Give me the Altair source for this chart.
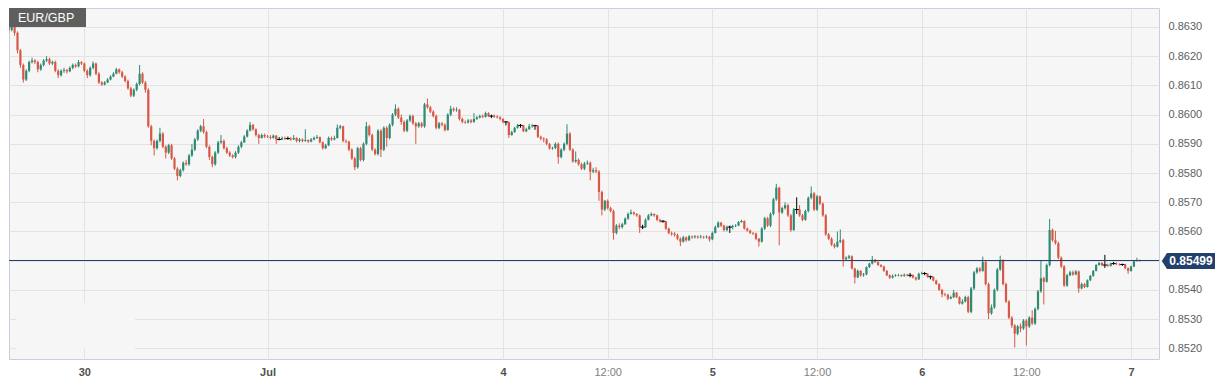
import altair as alt
import pandas as pd

# ---------------- data (prices stored as pips above 0.8500) ----------------
BASE = 0.85
OPEN0 = 133
CLOSE = [
    129, 137, 128, 122, 117, 112, 115, 118, 118.5, 118,
    115.5, 117, 118.5, 119, 117.5, 118, 115, 113.5, 115, 115.3,
    114.8, 116, 117, 116.5, 118, 117.5, 115, 113.5, 116, 117.5,
    114, 111, 110.3, 111, 112, 113, 114, 115.5, 114.5, 113,
    111.5, 109, 106.5, 108.5, 110.5, 114, 111, 108.5, 96, 91,
    88.5, 91, 93.5, 89, 87, 89.5, 85, 81.5, 79, 81,
    83.5, 83, 86, 88, 91.5, 94.5, 96, 94, 89, 85.5,
    83, 87, 90.5, 91, 88.5, 87, 86, 85.5, 87, 89,
    90.5, 92.5, 94.5, 96.5, 95, 93, 92, 93, 92.5, 92.3,
    92, 92.8, 91.5, 91.5, 92, 91.8, 91.8, 91.5, 92, 91,
    91.5, 91, 91.3, 90.8, 91.5, 92, 92.3, 90.5, 88.5, 89.5,
    92, 91.5, 92, 95.5, 96, 91, 90.8, 88, 85, 82,
    88.5, 84.5, 90, 96, 93, 88, 86.5, 94.5, 88, 95.5,
    92, 96.5, 100, 102, 99, 97.5, 94.5, 98, 99.5, 97,
    96, 97, 96, 103.5, 102.5, 101, 99.5, 95.5, 97, 96.5,
    94.7, 100, 102, 101.5, 101.7, 98.5, 97.5, 97.3, 98, 97.5,
    98.5, 99, 99.5, 99.2, 100.5, 99.5, 99.5, 99.3, 99, 98.5,
    97.5, 97.5, 93, 94, 95.5, 96.3, 96.3, 94.3, 95, 96,
    96.2, 96.2, 92.4, 91.8, 91.5, 90, 88.4, 88.6, 90, 85.5,
    88, 90, 93.5, 88, 84, 84.5, 83, 81.5, 83.2, 83.5,
    80.5, 81, 80.5, 73.5, 67.5, 70.5, 68, 67, 59.5, 62,
    61.5, 62.5, 64.4, 66, 66.5, 66, 65.5, 61.5, 61.5, 64,
    65.5, 66, 65.5, 64, 63.5, 63.5, 61, 59.5, 59.2, 58.8,
    57.5, 56.5, 58, 57, 58.3, 58, 58.3, 58, 58.2, 58,
    58.2, 57.3, 59.5, 61.5, 63, 62, 60.5, 61.5, 61.5, 61.8,
    62, 63.2, 63.6, 61, 60.3, 59.5, 59.3, 57.5, 56.5, 61,
    64.5, 62, 66, 71, 75, 66.5, 68, 69, 65.5, 60.5,
    67.5, 67.5, 65.5, 64, 67, 71.5, 73, 67.5, 72, 69.5,
    65.5, 59, 57.5, 55.5, 54.8, 56.5, 57, 50.5, 51, 51.5,
    47.3, 44.3, 46.5, 45, 45.3, 47.8, 49, 50.3, 49.5, 48.5,
    48, 46.5, 45, 44.2, 44.8, 45, 45.1, 44.8, 45.2, 45,
    45, 44.2, 43.6, 45.5, 45.6, 45.6, 44.5, 44.5, 43.2, 42,
    40, 38.5, 38.3, 37, 37.5, 39, 37.5, 35.3, 36, 37.5,
    32.5, 40.5, 46, 47.3, 46.5, 49.6, 42, 32, 34, 40,
    47, 50.2, 42, 36, 30.5, 27.8, 25, 27.5, 26.8, 29.5,
    27.5, 30.5, 28.5, 33.5, 39.5, 44, 42.8, 48.5, 60.5, 57,
    56, 51, 48, 41.5, 45, 46, 45.3, 46.3, 40.5, 42,
    41, 43.3, 44.8, 46.5, 48.5, 49.2, 48.5, 48.5, 48.2, 49,
    49, 48.8, 48.7, 48.7, 47.4, 46.5, 48, 49.8, 50.2, 49.99,
]
HIGH = [
    134, 138, 137.5, 128.5, 122.5, 117.5, 115.5, 118.5, 119.5, 119,
    118.5, 117.5, 119, 120, 119.5, 118.5, 118.5, 115.5, 115.5, 116,
    115.6, 116.5, 117.5, 117.5, 118.7, 118.3, 117.8, 115.5, 116.5, 118.2,
    117.8, 114.5, 111.5, 111.5, 112.5, 113.5, 114.5, 116, 115.8, 115,
    113.5, 112, 109.5, 109, 111, 117, 114.5, 111.5, 109, 96.5,
    91.5, 91.5, 95.5, 94, 89.5, 90, 90, 85.5, 82, 81.5,
    84, 84.5, 86.5, 90, 92, 95, 96.5, 98.5, 94.5, 89.5,
    86, 87.5, 91, 93, 91.5, 89, 87.5, 86.5, 87.5, 89.5,
    91, 93, 95, 97.5, 96.8, 95.3, 93.5, 93.5, 93.5, 93,
    93, 93.2, 93, 92.3, 92.5, 92.5, 92.5, 92.3, 93, 92.3,
    92, 91.8, 95, 91.5, 92, 92.5, 93, 92.5, 90.8, 90,
    92.5, 92.5, 92.8, 96.6, 96.5, 96.2, 91.5, 91, 88.5, 85.5,
    89, 89, 90.5, 97.5, 96.5, 93.5, 88.5, 95, 95, 96,
    96, 97, 100.5, 103.5, 102.5, 100, 98, 98.5, 100, 100,
    97.5, 97.5, 97.5, 104, 105.5, 103, 101.5, 100, 97.5, 97.5,
    97, 100.5, 103, 102.5, 102.5, 102, 99, 98, 98.5, 98.5,
    100.5, 99.5, 100, 100, 101, 100.8, 100, 100, 99.8, 99.5,
    98.8, 97.8, 97.5, 94.5, 95.8, 96.8, 96.8, 96.5, 95.5, 96.8,
    96.8, 96.5, 96.3, 92.8, 92.2, 92, 90.3, 89, 90.5, 90.5,
    88.5, 90.5, 96.7, 94, 88.5, 87.4, 85, 83.5, 83.8, 84.3,
    84, 81.8, 82, 81, 74, 70.8, 71, 68.5, 67.5, 62.5,
    62.8, 63, 64.8, 66.5, 67.5, 66.8, 66.3, 65.8, 62.3, 64.5,
    66, 66.5, 66.2, 65.8, 64.3, 63.9, 63.6, 61.3, 60, 59.8,
    59.3, 58, 58.5, 58.3, 58.8, 58.6, 58.8, 58.6, 58.8, 58.5,
    58.7, 58.5, 60, 62, 63.5, 63.3, 62.3, 62, 62, 62.3,
    62.5, 63.6, 64, 63.8, 61.3, 60.6, 59.8, 59.6, 57.8, 61.5,
    65, 65, 66.5, 71.5, 76.3, 75.3, 68.5, 70, 69.5, 66,
    68, 71.7, 69, 66, 67.5, 72, 75.4, 73.5, 72.5, 72.3,
    70, 66, 59.5, 58, 56, 60, 60.7, 57.5, 51.5, 52,
    51.8, 47.6, 47, 46.8, 45.8, 48, 49.3, 51.6, 50.6, 49.8,
    48.8, 48.3, 46.8, 45.3, 45.3, 45.4, 45.5, 45.3, 45.6, 45.5,
    45.8, 45.3, 44.5, 45.9, 46.2, 46.1, 45.6, 44.9, 44.5, 43.5,
    42.3, 40.3, 39, 38.7, 38, 40, 39.3, 37.8, 36.8, 38,
    38, 41, 46.5, 47.8, 47.8, 51.4, 50, 42.5, 35, 40.5,
    47.5, 51.7, 50.5, 42.5, 36.5, 31, 28.3, 28, 28.5, 30,
    30, 31, 33, 34, 40, 50, 44.5, 49, 64.3, 61,
    60.2, 56.5, 51.5, 48.5, 45.5, 46.5, 46.6, 46.8, 46.6, 42.5,
    42.4, 43.6, 45.1, 46.8, 48.8, 49.6, 49.5, 52, 49, 49.3,
    49.6, 49.4, 49.1, 49, 48.9, 47.7, 48.3, 50.1, 51, 50.4,
]
LOW = [
    128, 128.5, 127, 121, 116, 111, 111.5, 114.5, 117.5, 117.3,
    114.5, 115, 116.5, 118, 117, 117, 114.5, 112.5, 113, 114.3,
    114, 114.5, 115.5, 116, 116.2, 117, 114.5, 112.5, 113, 115.5,
    113.5, 110.5, 109.8, 110, 110.8, 111.7, 112.8, 113.8, 114, 112.5,
    111, 108.5, 106, 106, 108, 110, 110.5, 107.5, 95.5, 89.5,
    86, 88, 90.5, 88.5, 85, 86.5, 84.5, 81, 77.5, 78.5,
    80.5, 82.5, 82.5, 85.5, 87.5, 91, 94, 93.5, 88.5, 84.5,
    82, 82.5, 86.5, 90, 88, 86.5, 85.5, 85, 85, 86.5,
    88.5, 90.3, 92.2, 94.3, 94.5, 92.5, 90, 91.8, 92, 92,
    91.5, 91.8, 90, 91.2, 91.3, 91.3, 91.4, 91, 91.3, 90.5,
    90.5, 90.5, 90.7, 90.3, 90.5, 91.2, 91.7, 90.2, 88, 88.2,
    89.2, 91, 91.2, 91.8, 95, 90.5, 90.2, 87.5, 84.5, 81,
    81.5, 84, 84, 89.5, 92.5, 87.5, 86, 86, 85.5, 87.5,
    89, 91.5, 96, 99.5, 98.5, 96.5, 94, 94, 97.5, 96.5,
    90, 95.5, 95.5, 95.5, 102, 100.5, 99, 95, 95, 96,
    94.2, 94.5, 99.5, 101, 101, 98, 97, 96.8, 97, 97,
    97.2, 98.2, 98.7, 98.8, 99, 99.2, 98.8, 98.9, 98.7, 98,
    97, 96.3, 92, 92.8, 93.8, 95.2, 95.5, 94, 94, 94.8,
    95.5, 94.8, 92, 91.2, 90.5, 89.5, 88, 88, 88.2, 83.2,
    85, 87.5, 89.5, 87.5, 83.5, 83.5, 82.5, 81, 81, 82.8,
    77.5, 80, 80, 70.5, 65.5, 67, 67.5, 66.5, 57.2, 59,
    60.8, 61, 62.2, 64, 65.8, 65.5, 65, 59.5, 60.8, 61.2,
    63.8, 65.2, 65, 63.5, 63, 63, 60.5, 59, 58.5, 58.2,
    57, 55, 56.2, 56.5, 56.7, 57.5, 57.6, 57.5, 57.6, 57.5,
    57.6, 56.5, 57, 59.3, 61.2, 61.5, 60, 60, 59.5, 60.7,
    61.5, 61.8, 63, 60.6, 59.9, 59.1, 58.8, 57, 54.8, 56.2,
    60.5, 61.5, 61.5, 65.5, 70.5, 55.3, 66, 67.5, 65, 59.9,
    60.2, 66, 65, 63.5, 63.7, 66.5, 71, 67, 67, 69,
    65, 58.5, 57, 55, 54.2, 54.5, 56, 48, 50, 50.5,
    47, 42.2, 44, 44.5, 44.5, 45, 47.5, 48.7, 49.2, 48.2,
    47.7, 46.2, 44.7, 43.7, 43.9, 44.5, 44.6, 44.4, 44.5, 44.6,
    44.3, 43.9, 43.2, 43.4, 45.2, 45, 44.2, 43.6, 42.9, 41.7,
    39.7, 37.5, 37.8, 36.5, 36.8, 37.2, 37.2, 35, 35, 35.7,
    32, 32, 40, 45.5, 46, 46.2, 41.5, 30, 31.5, 33.5,
    39.5, 46.5, 41.5, 35.5, 30, 27, 20.3, 24.5, 25.5, 26.3,
    21, 27, 28, 28, 33, 39, 35, 42.5, 48, 56.5,
    55.5, 50.5, 47.5, 41, 41, 44.7, 44.8, 45, 39, 40.2,
    40.6, 40.8, 43, 44.5, 46.3, 48.3, 48.1, 47.5, 47.9, 48,
    48.6, 48.5, 48.3, 48.2, 47.1, 45.5, 46.2, 47.8, 49.9, 49.7,
]

TICK_IDX = [26, 89, 170, 206, 242, 278, 314, 350, 386]
TICK_LABELS = ["30", "Jul", "4", "12:00", "5", "12:00", "6", "12:00", "7"]
Y_TICKS = [0.8520, 0.8530, 0.8540, 0.8550, 0.8560, 0.8570, 0.8580,
           0.8590, 0.8600, 0.8610, 0.8620, 0.8630]
LAST_PRICE = 0.85499
SYMBOL = "EUR/GBP"

# ---------------- styling ----------------
UP = "#2e8a72"
DOWN = "#d95745"
NAVY = "#22406a"
FONT = "Liberation Sans"
W, H = 1150, 351

rows = []
prev = OPEN0
for i, (c, h, l) in enumerate(zip(CLOSE, HIGH, LOW)):
    o = prev
    d = "up" if c > o else ("down" if c < o else "flat")
    rows.append(dict(
        i=i, xl=i - 0.75, xr=i + 0.75,
        open=BASE + o / 1e4, close=BASE + c / 1e4,
        high=BASE + max(h, o, c) / 1e4, low=BASE + min(l, o, c) / 1e4,
        dir=d,
    ))
    prev = c
df = pd.DataFrame(rows)

xscale = alt.Scale(domain=[1.8, 393.9], nice=False, zero=False)
yscale = alt.Scale(domain=[0.851634, 0.86365], nice=False, zero=False)

label_expr = "".join(
    f"datum.value == {v} ? '{t}' : " for v, t in zip(TICK_IDX, TICK_LABELS)
) + "''"
noon = [v for v, t in zip(TICK_IDX, TICK_LABELS) if t == "12:00"]
noon_test = "indexof([" + ",".join(str(v) for v in noon) + "], datum.value) >= 0"

xaxis = alt.Axis(
    values=TICK_IDX, labelExpr=label_expr, title=None, grid=True,
    gridColor="#e3e3e3", ticks=False, tickSize=0, domain=False,
    labelPadding=7, labelFont=FONT, labelFontSize=11,
    labelOverlap=False, labelFlush=False,
    labelFontWeight={"condition": {"test": noon_test, "value": "normal"}, "value": "bold"},
    labelColor={"condition": {"test": noon_test, "value": "#808080"}, "value": "#505050"},
)
# the label of the grid line hidden under the last-price tag is left blank
y_label_expr = (f"abs(datum.value - {LAST_PRICE}) < 0.0004 ? '' : "
                "format(datum.value, '.4f')")
yaxis = alt.Axis(
    orient="right", values=Y_TICKS, labelExpr=y_label_expr, title=None, grid=True,
    gridColor="#e3e3e3", ticks=False, tickSize=0, domain=False,
    labelPadding=9, labelFont=FONT, labelFontSize=11, labelColor="#606060",
    labelOverlap=False, labelFlush=False,
)

color = alt.Color("dir:N", scale=alt.Scale(domain=["up", "down", "flat"],
                                           range=[UP, DOWN, "#000000"]), legend=None)

one = pd.DataFrame({"label": [SYMBOL]})
last_y = alt.YDatum(LAST_PRICE, scale=yscale, axis=yaxis)

mask = alt.Chart(one).mark_rect(color="#f6f6f6").encode(
    x=alt.value(7), x2=alt.value(126), y=alt.value(295), y2=alt.value(341))

wicks = alt.Chart(df).mark_rule(strokeWidth=1, clip=True).encode(
    x=alt.X("i:Q", scale=xscale, axis=xaxis),
    y=alt.Y("low:Q", scale=yscale, axis=yaxis),
    y2="high:Q",
    color=color,
)
bodies = alt.Chart(df).mark_bar(size=2.2, clip=True).encode(
    x=alt.X("i:Q", scale=xscale, axis=xaxis),
    y=alt.Y("open:Q", scale=yscale, axis=yaxis),
    y2="close:Q",
    color=color,
)
dojis = alt.Chart(df).transform_filter("datum.dir == 'flat'").mark_rule(
    strokeWidth=1, color="#000000", clip=True).encode(
    x=alt.X("xl:Q", scale=xscale, axis=xaxis),
    x2="xr:Q",
    y=alt.Y("close:Q", scale=yscale, axis=yaxis),
)

last_line = alt.Chart(one).mark_rule(color=NAVY, strokeWidth=1, yOffset=-0.47).encode(
    y=last_y)
tag_box = alt.Chart(one).mark_rect(color=NAVY, yOffset=-8, y2Offset=8).encode(
    x=alt.value(W + 8), x2=alt.value(W + 56),
    y=last_y, y2=alt.datum(LAST_PRICE))
tag_arrow = alt.Chart(one).mark_point(
    shape="M -0.35 0 L 0.3 -1 L 0.3 1 Z", filled=True, size=256,
    color=NAVY, opacity=1, strokeWidth=0).encode(
    x=alt.value(W + 5.6), y=last_y)
tag_text = alt.Chart(one).mark_text(
    color="white", fontWeight="bold", fontSize=12, font=FONT,
    align="center", baseline="middle").encode(
    x=alt.value(W + 32), y=last_y,
    text=alt.value(f"{LAST_PRICE:.5f}"))

sym_box = alt.Chart(one).mark_rect(color="#5e5e5e").encode(
    x=alt.value(0), x2=alt.value(77), y=alt.value(0), y2=alt.value(19))
sym_text = alt.Chart(one).mark_text(
    color="white", fontSize=12.5, font=FONT, align="left", baseline="middle").encode(
    x=alt.value(9), y=alt.value(9.5), text="label:N")

chart = alt.layer(
    mask, wicks, bodies, dojis, last_line, tag_box, tag_arrow, tag_text,
    sym_box, sym_text,
).properties(
    width=W, height=H, padding=0, background="white",
).configure_view(
    fill="#f6f6f6", stroke="#c7cfe2", strokeWidth=1,
)

chart.save("out.html", embed_options={"renderer": "svg", "actions": False})
